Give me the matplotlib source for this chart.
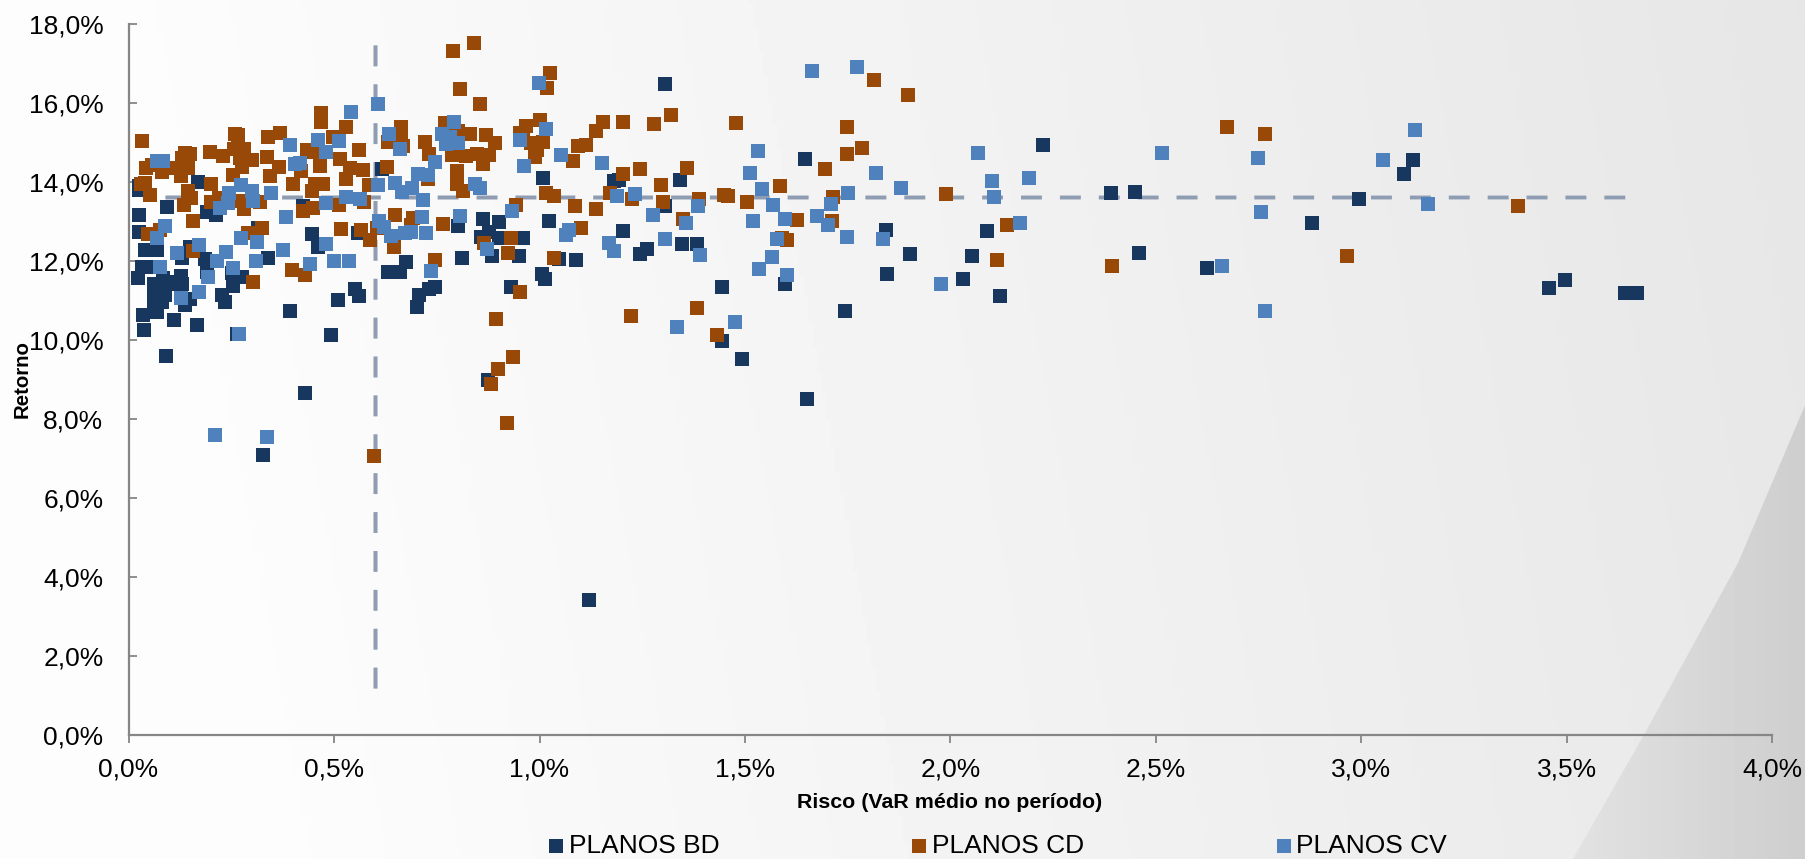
"""Risco x retorno dos planos BD, CD e CV."""
import matplotlib
matplotlib.use("Agg")
import matplotlib.patheffects as pe
import matplotlib.pyplot as plt
import numpy as np
from matplotlib.patches import Polygon

# values, in percent
bd_x = [.026, .026, .17, .094, .026, .026, .191, .213, .424, .447, .316,
        .041, .069, .15, .13, .186, .34, .033, .045, .024, .085, .128, .19, .276, .251, .255, .228, .235, .393,
        .063, .063, .063, .063, .081, .089, .081, .114, .13, .097, .138, .15, .036, .069, .111, .167, .038, .264,
        .092, .462,
        .617, .802, .863, .901, .877, .858, .901, .558,
        .675, .631, .661, .551, .561, .51, .493, .811, .746, .73, .707, .702, .931, .884, .95, .875, .429, .958,
        1.008, 1.193, 1.181, 1.342, 1.306, 1.023, 1.203, .96, 1.305, 1.047, 1.089, 1.006, 1.013, 1.244, 1.261,
        1.346, 1.383,
        2.224, 1.646, 2.39, 2.449, 1.843, 2.088, 1.901, 2.052, 2.458, 1.845, 2.03, 1.444, 1.597, 2.12, 1.743,
        1.444, 1.492, 1.65,
        3.125, 3.104, 2.994, 2.88, 2.624, 3.456, 3.495, 3.64, 3.67,
        .327, 1.12]
bd_y = [13.91, 13.8, 14.0, 13.37, 13.17, 12.73, 13.24, 13.17, 13.38, 12.68, 12.83,
        12.28, 12.28, 12.36, 12.07, 12.05, 12.07, 11.85, 11.85, 11.57, 11.56, 11.62, 11.73, 11.6, 11.69, 11.37,
        11.14, 10.97, 10.73,
        11.43, 11.18, 10.93, 10.72, 11.35, 11.14, 10.97, 11.43, 11.43, 11.48, 10.88, 11.05, 10.63, 10.72, 10.5,
        10.38, 10.25, 10.15,
        9.59, 12.36,
        14.33, 12.89, 13.06, 12.99, 12.74, 12.62, 12.57, 12.7,
        11.97, 11.72, 11.72, 11.29, 11.11, 11.01, 10.12, 12.07, 11.34, 11.29, 11.13, 10.83, 11.34, 12.12, 12.12,
        8.99, 8.66, 12.58,
        14.1, 14.05, 14.02, 14.05, 13.38, 13.01, 12.76, 12.58, 16.48, 12.05, 12.02, 11.67, 11.54, 12.17, 12.3,
        12.43, 12.43,
        14.94, 14.58, 13.72, 13.75, 12.79, 12.76, 12.18, 12.13, 12.21, 11.67, 11.55, 11.34, 11.42, 11.12, 10.74,
        9.98, 9.52, 8.51,
        14.56, 14.2, 13.57, 12.96, 11.83, 11.32, 11.52, 11.19, 11.19,
        7.09, 3.42]

cd_x = [.033, .26, .266, .368, .339, .138, .15, .13, .144, .043, .057, .081, .114, .128, .199, .23, .257,
        .28, .272, .30, .337, .276, .254, .365, .345, .419, .40, .435, .45, .031, .041, .053, .201, .144,
        .152, .135, .201, .219, .272, .281, .32, .447, .454, .425, .45, .157, .324, .29, .047, .077,
        .157, .397, .43, .303,
        .807, .855, .468, .468, .529, .663, .663, .498, .669, .631, .721, .731, .561, .515, .466, .539, .571,
        .629, .529, .585, .474, .729, .799, .799, .814, .77, .802, .831, .871, .892, .787, .821, .847, .876,
        .863, .953, .942, .512, .574, .648, .693, .687, .517, .566, .604, .765, .865, .931,
        .588, .646, .746, .923, .894, .936, .953, .899, .882, .921, 1.035, .597,
        1.018, 1.025, 1.32, 1.278, 1.203, 1.154, 1.137, 1.001, .967, .96, 1.009, .979, .993, .989, 1.093, 1.113,
        1.081, 1.203, 1.244, 1.359, 1.295, 1.016, 1.035, 1.086, 1.137, 1.171, 1.225, 1.3, 1.388, .943, 1.349,
        1.101, .79, .84,
        1.222, 1.383, 1.478, 1.748, 1.748, 1.784, 1.814, 1.897, 1.694, 1.585, 1.449, 1.459, 1.506, 1.714, 1.99,
        1.348, 1.627, 1.711, 1.601, 1.589, 2.137, 2.113, 2.392, 1.431,
        2.673, 2.765, 2.964, 3.381]
cd_y = [15.04, 15.22, 15.19, 15.25, 15.13, 14.73, 14.71, 14.6, 14.36, 14.36, 14.43, 14.26, 14.35, 14.14,
        14.77, 14.66, 14.83, 14.84, 14.6, 14.56, 14.64, 14.39, 14.18, 14.39, 14.14, 14.29, 13.96, 14.81,
        14.75, 13.94, 13.97, 13.67, 13.96, 13.76, 13.59, 13.42, 13.5, 13.59, 13.52, 13.32, 13.5, 13.76, 13.94,
        13.27, 13.33, 13.02, 12.84, 12.72, 12.68, 12.78,
        12.25, 11.77, 11.64, 11.47,
        16.36, 15.98, 15.75, 15.52, 15.39, 15.4, 15.19, 15.15, 14.91, 15.01, 15.01, 14.71, 14.81, 14.58, 14.41,
        14.36, 14.3, 14.38, 14.08, 13.92, 13.95, 14.08, 14.28, 13.95, 13.77, 15.49, 15.28, 15.22, 15.19, 14.98,
        14.68, 14.66, 14.71, 14.68, 14.46, 15.23, 13.42, 13.42, 13.5, 13.17, 13.08, 12.91, 12.81, 12.79, 12.83,
        12.94, 12.45, 12.57,
        12.53, 12.36, 12.02, 12.2, 10.53, 9.58, 11.22, 9.27, 8.89, 7.9, 12.07, 7.06,
        16.38, 16.76, 15.7, 15.47, 15.52, 15.52, 15.29, 15.57, 15.42, 15.17, 15.02, 14.98, 14.81, 14.64, 14.91,
        14.94, 14.53, 14.2, 14.33, 14.36, 13.92, 13.72, 13.65, 13.39, 13.32, 13.72, 13.57, 13.49, 13.57, 13.42,
        13.06, 12.84, 17.32, 17.53,
        10.61, 10.81, 15.5, 15.4, 14.71, 14.86, 16.58, 16.2, 14.33, 13.9, 13.67, 13.65, 13.5, 13.62, 13.7,
        13.07, 13.04, 13.02, 12.53, 12.58, 12.91, 12.03, 11.88, 10.13,
        15.39, 15.22, 12.13, 13.4]

cv_x = [.069, .085, .393, .461, .405, .418, .274, .245, .30, .347, .243, .223, .303, .384, .089, .07, .274,
        .313,
        .118, .172, .238, .216, .255, .077, .194, .311, .376, .442, .172, .128, .27,
        .607, .541, .634, .512, .792, .763, .782, .773, .802, .661, .481, .746, .704, .729, .607, .648, .69,
        .666, .717, .529, .563, .481, .843, .855, .933, .807, .714, .609, .622, .687, .673, .639, .724, .481, .5,
        .537, .736, .872, .21, .337, .998,
        1.016, .952, 1.052, 1.152, .962, 1.188, 1.232, 1.276, 1.385, 1.356, 1.305, 1.072, 1.064, 1.169, 1.181,
        1.39, 1.334,
        1.662, 1.772, 1.532, 2.067, 2.514, 1.512, 1.818, 2.1, 2.191, 1.541, 1.879, 1.75, 2.105, 1.568, 1.709,
        1.275, 1.598, 1.519, 1.675, 1.702, 2.168, 1.748, 1.835, 1.577, 1.565, 1.533, 1.601, 1.978, 1.476,
        3.13, 2.748, 3.052, 2.756, 3.162, 2.661, 2.765]
cv_y = [14.52, 14.54, 14.94, 15.06, 14.46, 14.49, 13.93, 13.73, 13.76, 13.73, 13.48, 13.33, 13.53, 13.12,
        12.89, 12.57, 12.57, 12.48,
        12.2, 12.4, 12.23, 12.0, 11.82, 11.85, 11.59, 12.0, 12.28, 11.92, 11.21, 11.06, 10.15,
        15.98, 15.77, 15.22, 15.04, 15.52, 15.22, 15.15, 14.96, 15.0, 14.84, 14.77, 14.51, 14.2, 14.18,
        13.92, 13.97, 13.85, 13.75, 13.54, 13.62, 13.57, 13.46, 13.95, 13.85, 13.27, 13.14, 13.11, 13.01, 12.86,
        12.74, 12.7, 12.63, 12.7, 12.43, 12.0, 12.0, 11.74, 12.3, 7.6, 7.55, 16.5,
        15.34, 15.06, 14.68, 14.48, 14.41, 13.65, 13.7, 13.17, 13.39, 12.96, 12.56, 12.79, 12.67, 12.46, 12.25,
        12.15, 10.33,
        16.81, 16.91, 14.79, 14.74, 14.74, 14.23, 14.23, 14.03, 14.1, 13.83, 13.85, 13.72, 13.62, 13.42, 13.45,
        13.17, 13.07, 13.01, 13.14, 12.91, 12.96, 12.61, 12.56, 12.56, 12.1, 11.8, 11.65, 11.42, 10.46,
        15.32, 14.61, 14.56, 13.24, 13.45, 11.88, 10.74]

mean_risk = 0.6
mean_return = 13.63
vline_y = [1.19, 17.9]
hline_x = [0.09, 3.67]

x_ticks = [0.0, 0.5, 1.0, 1.5, 2.0, 2.5, 3.0, 3.5, 4.0]
y_ticks = [0, 2, 4, 6, 8, 10, 12, 14, 16, 18]

BD_COLOR = "#17375e"
CD_COLOR = "#984807"
CV_COLOR = "#4f81bd"
AXIS_COLOR = "#868686"
DASH_COLOR = "#8f9db3"
W, H = 1806, 859

plt.rcParams["font.family"] = ["Liberation Sans", "DejaVu Sans"]

fig = plt.figure(figsize=(W / 100, H / 100), dpi=100)

# slide background: soft horizontal gradient plus the grey wedge bottom right
bg = fig.add_axes([0, 0, 1, 1], zorder=0)
gx, gy = np.meshgrid(np.linspace(0, 1, 400), np.linspace(0, 1, 200))
shade = np.clip((gx * 0.92 + (1 - gy) * 0.08 - 0.12) / 0.88, 0, 1)
bg.imshow(253 - 23 * shade, cmap="gray", vmin=0, vmax=255, extent=(0, W, H, 0), aspect="auto")
wedge = Polygon([(1806, 403), (1738, 563), (1645, 733), (1573, 859), (1806, 859)], transform=bg.transData,
                fc="none", ec="none")
bg.add_patch(wedge)
im = bg.imshow(226 - 20 * np.clip((gx - 0.87) / 0.13, 0, 1), cmap="gray", vmin=0, vmax=255,
               extent=(0, W, H, 0), aspect="auto")
im.set_clip_path(wedge)
bg.set_xlim(0, W)
bg.set_ylim(H, 0)
bg.axis("off")

ax = fig.add_axes([128.5 / W, (H - 735) / H, 1644 / W, 711 / H], zorder=1)
ax.patch.set_alpha(0)

ax.scatter(bd_x, bd_y, s=106, marker="s", color=BD_COLOR, linewidths=0, label="PLANOS BD", zorder=3, clip_on=False)
ax.scatter(cd_x, cd_y, s=106, marker="s", color=CD_COLOR, linewidths=0, label="PLANOS CD", zorder=4, clip_on=False)
ax.scatter(cv_x, cv_y, s=106, marker="s", color=CV_COLOR, linewidths=0, label="PLANOS CV", zorder=5, clip_on=False)

halo = [pe.withStroke(linewidth=3.6, foreground="#d3d8e0")]
ax.plot([mean_risk, mean_risk], vline_y, color=DASH_COLOR, lw=2.5, dashes=(6, 5.2), dash_capstyle="butt",
        path_effects=halo, zorder=2)
ax.plot(hline_x, [mean_return, mean_return], color=DASH_COLOR, lw=2.5, dashes=(6, 5.2), dash_capstyle="butt",
        path_effects=halo, zorder=2)

ax.set_xlim(0, 4)
ax.set_ylim(0, 18)
ax.set_xticks(x_ticks)
ax.set_yticks(y_ticks)
ax.set_xticklabels([f"{v:.1f}%".replace(".", ",") for v in x_ticks], fontsize=19)
ax.set_yticklabels([f"{v:.1f}%".replace(".", ",") for v in y_ticks], fontsize=19)
ax.tick_params(axis="x", direction="out", length=6, width=1.3, color=AXIS_COLOR, pad=10)
ax.tick_params(axis="y", direction="in", length=6, width=1.3, color=AXIS_COLOR, pad=18)
for side in ("top", "right"):
    ax.spines[side].set_visible(False)
for side in ("left", "bottom"):
    ax.spines[side].set_color(AXIS_COLOR)
    ax.spines[side].set_linewidth(1.6)

fig.text(950 / W, 1 - 803 / H, "Risco (VaR médio no período)", fontsize=15.4, fontweight="bold", ha="center", va="center")
fig.text(22 / W, 1 - 379 / H, "Retorno", fontsize=14.7, fontweight="bold", rotation=90, ha="center", va="center", zorder=3)

ax.legend(loc="center", bbox_to_anchor=(998 / W, 1 - 846 / H), bbox_transform=fig.transFigure, ncol=3, frameon=False,
          fontsize=19, handlelength=0.55, handletextpad=0.2, columnspacing=7.3, borderpad=0, scatterpoints=1)

fig.savefig("out.png", dpi=100)
